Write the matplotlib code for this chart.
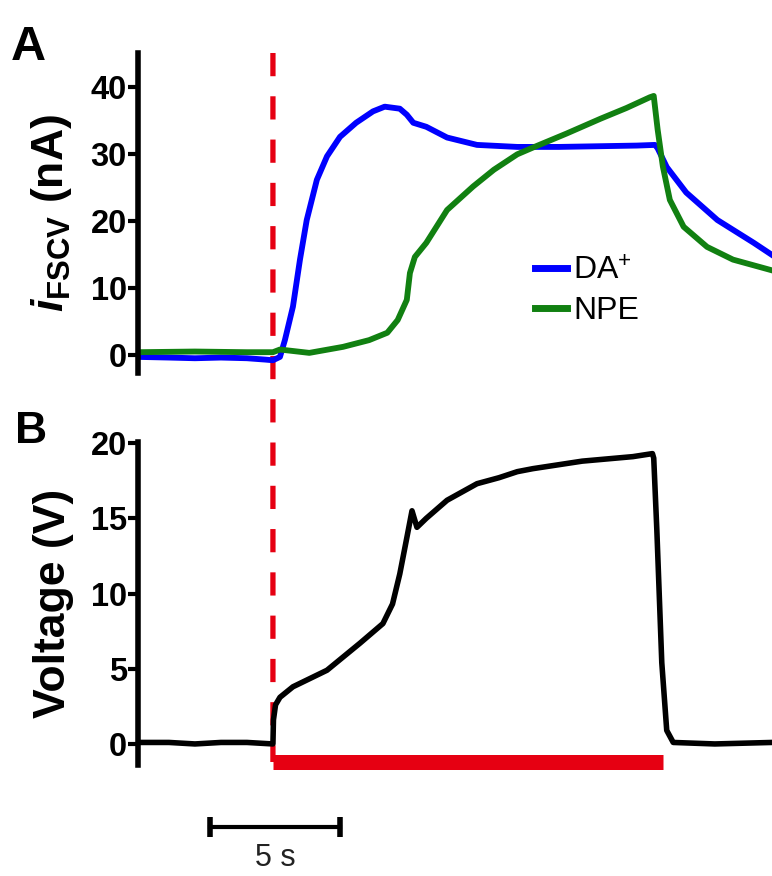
import matplotlib
matplotlib.use("Agg")
import matplotlib.pyplot as plt
from matplotlib.patches import ConnectionPatch

plt.rcParams['font.family'] = 'Liberation Sans'
plt.rcParams['mathtext.fontset'] = 'custom'
plt.rcParams['mathtext.rm'] = 'Liberation Sans'
plt.rcParams['mathtext.it'] = 'Liberation Sans:italic:bold'
plt.rcParams['mathtext.bf'] = 'Liberation Sans:bold'

# time in s, stimulus starts at t = 0
t_da = [-5.19, -4.0, -3.0, -2.0, -1.0, -0.3, 0.0, 0.27, 0.46, 0.77, 1.04, 1.3, 1.69,
        2.08, 2.58, 3.2, 3.85, 4.3, 4.88, 5.15, 5.4, 5.9, 6.7, 7.85, 9.4, 11.0,
        12.5, 14.0, 14.7, 14.8, 15.15, 15.9, 17.1, 18.5, 19.2]
i_da = [-0.3, -0.4, -0.5, -0.4, -0.5, -0.7, -0.8, -0.3, 2.2, 7.2, 14.2, 20.1, 26.1,
        29.6, 32.5, 34.6, 36.3, 37.0, 36.7, 35.8, 34.6, 34.0, 32.4, 31.3, 31.0, 31.0,
        31.1, 31.2, 31.3, 30.8, 28.0, 24.2, 20.1, 16.7, 14.9]

t_npe = [-5.19, -3.0, -1.0, 0.0, 0.27, 1.4, 2.7, 3.7, 4.4, 4.8, 5.15, 5.27, 5.46,
         5.9, 6.7, 7.7, 8.5, 9.4, 10.0, 11.3, 12.6, 13.6, 14.5, 14.65, 14.8, 15.0,
         15.27, 15.8, 16.7, 17.7, 19.2]
i_npe = [0.4, 0.5, 0.4, 0.4, 0.8, 0.3, 1.2, 2.2, 3.3, 5.2, 8.2, 12.2, 14.6,
         16.7, 21.6, 25.1, 27.6, 29.9, 30.9, 33.0, 35.2, 36.8, 38.4, 38.6, 33.6, 28.1,
         23.1, 19.1, 16.1, 14.2, 12.6]

t_v = [-5.19, -4.0, -3.0, -2.0, -1.0, 0.0, 0.02, 0.1, 0.27, 0.77, 2.08, 3.35, 4.23,
       4.6, 4.88, 5.15, 5.35, 5.54, 5.9, 6.7, 7.85, 8.7, 9.4, 10.0, 11.9, 13.85,
       14.6, 14.65, 14.77, 14.96, 15.15, 15.4, 17.0, 19.2]
volt = [0.1, 0.1, 0.0, 0.1, 0.1, 0.0, 1.6, 2.6, 3.1, 3.8, 4.9, 6.7, 8.0,
        9.3, 11.3, 13.7, 15.5, 14.4, 15.0, 16.2, 17.3, 17.7, 18.1, 18.3, 18.8, 19.1,
        19.3, 19.0, 14.2, 5.4, 0.9, 0.1, 0.0, 0.1]

stim_on, stim_off = 0.0, 15.0
scale_len = 5.0

a_ticks = [0, 10, 20, 30, 40]
b_ticks = [0, 5, 10, 15, 20]

RED = "#e60012"
BLUE = "#0000ff"
GREEN = "#118011"

fig = plt.figure(figsize=(7.72, 8.76), dpi=100)
axA = fig.add_axes([0.1788, 0.5742, 0.8212, 0.3653])
axB = fig.add_axes([0.1788, 0.1267, 0.8212, 0.3687])

for ax in (axA, axB):
    ax.set_facecolor("none")
    ax.set_zorder(1)
    ax.set_xlim(-5.19, 19.2)
    for s in ("top", "right", "bottom"):
        ax.spines[s].set_visible(False)
    ax.spines["left"].set_linewidth(4)
    ax.set_xticks([])
    ax.tick_params(axis="y", length=7, width=3, pad=1, labelsize=23.5)

# Panel A
axA.plot(t_da, i_da, color=BLUE, lw=4.2, label="DA$^{+}$", solid_joinstyle="round")
axA.plot(t_npe, i_npe, color=GREEN, lw=4.2, label="NPE", solid_joinstyle="round")
axA.set_ylim(-2.7, 45)
axA.set_yticks(a_ticks)
axA.set_yticklabels([str(v) for v in a_ticks], fontweight="bold")
axA.set_ylabel(r"$i_{\mathbf{FSCV}}$ (nA)", fontsize=32, fontweight="bold", labelpad=12)
leg = axA.legend(loc="center left", bbox_to_anchor=(535 / 772, 1 - 291 / 876),
                 bbox_transform=fig.transFigure, frameon=False, fontsize=23,
                 handlelength=1.0, handletextpad=0.2, labelspacing=0.3,
                 borderpad=0, borderaxespad=0)
for h in leg.get_lines():
    h.set_linewidth(5)

# Panel B
axB.plot(t_v, volt, color="black", lw=4, solid_joinstyle="round")
axB.set_ylim(-1.4, 20.07)
axB.set_yticks(b_ticks)
axB.set_yticklabels([str(v) for v in b_ticks], fontweight="bold")
axB.set_ylabel("Voltage (V)", fontsize=32, fontweight="bold", labelpad=12)

# stimulus bar
axB.plot([stim_on, stim_off], [-1.2, -1.2], color=RED, lw=10.8,
         solid_capstyle="butt", clip_on=False, zorder=1)

# scale bar
sb_x0 = -2.42
axB.plot([sb_x0, sb_x0 + scale_len], [-5.5, -5.5], color="black", lw=3,
         marker="|", markersize=14, markeredgewidth=4, clip_on=False)
axB.text(sb_x0 + scale_len / 2, -7.6, "5 s", ha="center", va="center",
         fontsize=22, color="#222222", clip_on=False)

# dashed stimulus-onset line through both panels
con = ConnectionPatch(xyA=(stim_on, 45), coordsA=axA.transData,
                      xyB=(stim_on, -1.2), coordsB=axB.transData,
                      color=RED, lw=3.8, linestyle=(0, (4.4, 3.8)),
                      capstyle="butt", zorder=0.5)
fig.add_artist(con)

# panel letters
fig.text(0.014, 1 - 60 / 876, "A", fontsize=35, fontweight="bold", va="baseline")
fig.text(0.019, 1 - 443 / 876, "B", fontsize=32, fontweight="bold", va="baseline")

fig.savefig("out.png", dpi=100)
